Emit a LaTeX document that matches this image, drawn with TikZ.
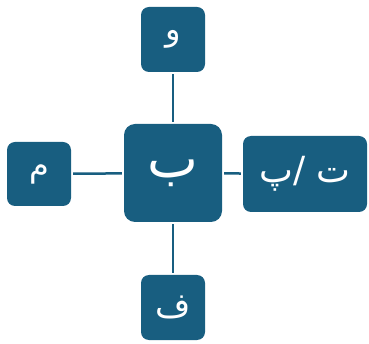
\documentclass[tikz,border=0pt]{standalone}
\usepackage{fontspec}
\newfontfamily\arabicfont[Script=Arabic]{DejaVu Sans}
\TeXXeTstate=1
\definecolor{boxblue}{RGB}{24,94,128}

\begin{document}
\begin{tikzpicture}[x=1pt, y=-1pt,
	box/.style={fill=boxblue, rounded corners=8pt, inner sep=0pt, text=white, font=\arabicfont},
	link/.style={draw=boxblue, line width=2.5pt, shorten <=2pt, shorten >=2pt}]
	\useasboundingbox (0,0) rectangle (369,344);

	\node[box, minimum width=98pt, minimum height=98pt, rounded corners=11pt, font=\arabicfont\fontsize{54}{56}\selectfont] (B) at (173,173) {\beginR ب\endR};
	\node[box, minimum width=64pt, minimum height=65pt, font=\arabicfont\fontsize{32}{34}\selectfont] (W) at (173,39.5) {\beginR و\endR};
	\node[box, minimum width=64pt, minimum height=64pt, font=\arabicfont\fontsize{32}{34}\selectfont] (M) at (39,174) {\beginR م\endR};
	\node[box, minimum width=64pt, minimum height=65pt, font=\arabicfont\fontsize{34}{36}\selectfont] (F) at (173,307.5) {\beginR ف\endR};
	\node[box, minimum width=124pt, minimum height=76pt, font=\arabicfont\fontsize{36}{38}\selectfont] (TP) at (305,174) {\beginR ت /پ\endR};

	\draw[link] (B) -- (W);
	\draw[link] (B) -- (M);
	\draw[link] (B) -- (F);
	\draw[link] (B) -- (TP);
\end{tikzpicture}
\end{document}
